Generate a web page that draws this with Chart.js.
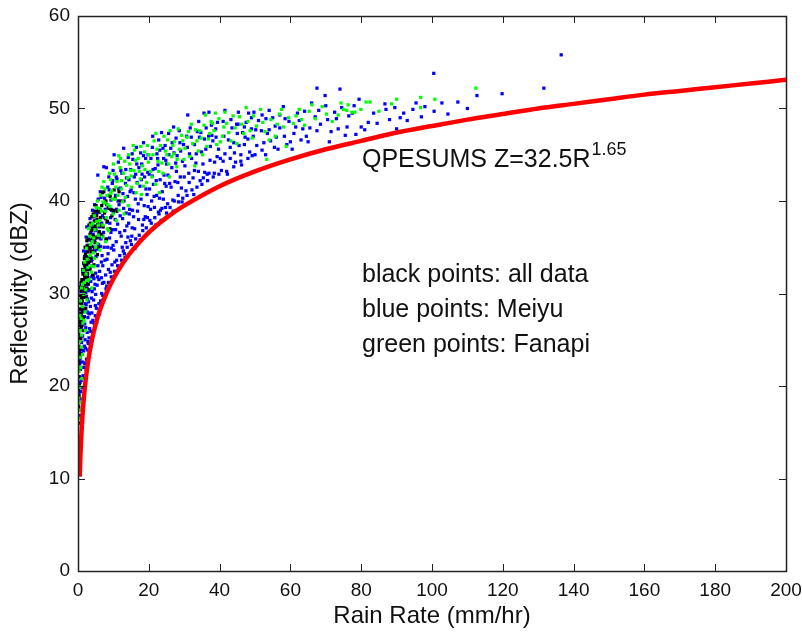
<!DOCTYPE html>
<html>
<head>
<meta charset="utf-8">
<script src="https://cdn.jsdelivr.net/npm/chart.js@4.4.1/dist/chart.umd.min.js"></script>
<style>
  body { margin: 0; background: #fff; }
  #wrap { width: 802px; height: 635px; }
</style>
</head>
<body>
<div id="wrap"><canvas id="chart" width="802" height="635"></canvas></div>
<script>
// ===== DATA =====
// axis ticks
const xTicks = [0, 20, 40, 60, 80, 100, 120, 140, 160, 180, 200];
const yTicks = [0, 10, 20, 30, 40, 50, 60];

// red QPESUMS curve, rain rate (mm/hr) vs reflectivity (dBZ)
const curveRain = [0.5, 0.6, 0.7, 0.8, 1, 1.2, 1.5, 2, 2.5, 3, 4, 5, 6, 8, 10, 12, 15, 20, 25, 30, 40, 50, 60, 70, 80, 90, 100, 110, 120, 130, 140, 150, 160, 170, 180, 190, 200];
const curveDbz = [10.2, 11.5, 12.6, 13.5, 15.1, 16.4, 18.0, 20.1, 21.7, 23.0, 25.1, 26.7, 28.0, 30.0, 31.6, 32.9, 34.5, 36.6, 38.2, 39.5, 41.6, 43.2, 44.5, 45.6, 46.5, 47.4, 48.1, 48.8, 49.4, 50.0, 50.5, 51.0, 51.5, 51.9, 52.3, 52.7, 53.1];

// black points: all data  [rain rate, dBZ]
const allPoints = [
  [0.1,16.0],[0.2,17.8],[0.1,19.5],[0.2,21.0],[0.3,22.6],[0.2,23.9],[0.4,25.2],[0.3,26.5],[0.5,27.4],[0.4,28.3],
  [0.6,24.0],[0.5,21.8],[0.7,26.9],[0.8,29.0],[0.6,29.8],[0.9,27.8],[1.0,30.3],[0.3,18.9],[0.7,23.3],[0.2,25.6],
  [0.1,22.4],[0.4,20.1],[0.8,25.1],[1.0,28.9],[0.9,31.2],[0.5,30.6],
  [1.1,27.3],[1.2,29.2],[1.3,30.6],[1.4,28.1],[1.5,31.4],[1.6,29.7],[1.7,32.3],[1.8,30.9],[1.9,33.0],[2.0,31.7],
  [2.1,29.6],[2.2,32.6],[2.3,34.0],[2.4,31.1],[2.5,33.4],[2.6,35.1],[2.7,32.2],[2.8,34.5],[2.9,36.0],[3.0,33.3],
  [1.2,26.0],[1.5,27.4],[1.8,33.8],[2.2,28.4],[2.6,30.5],[1.4,32.1],[1.1,31.5],[2.0,35.0],[2.9,31.0],
  [3.2,34.8],[3.4,36.4],[3.6,33.9],[3.8,35.7],[4.0,37.1],[4.2,34.6],[4.4,36.2],[4.6,37.8],[4.8,35.5],[5.0,37.0],
  [5.2,38.4],[5.4,36.1],[5.6,37.6],[5.8,39.0],[6.0,36.7],[3.3,32.6],[3.9,38.3],[4.5,33.1],[5.1,39.5],[5.7,35.0],
  [3.1,37.4],[4.1,32.0],[4.9,38.9],[5.5,34.2],
  [6.3,38.2],[6.7,39.5],[7.1,37.2],[7.5,38.7],[7.9,40.0],[8.3,37.8],[8.7,39.2],[9.1,40.5],[9.6,38.4],[10.0,39.0],
  [10.5,40.3],[11.0,38.9],[11.6,41.0],[6.5,36.4],[7.3,41.0],[8.0,35.9],[9.0,37.0],[12.0,40.0],[6.9,40.9],
  [0.1,18.2],[0.2,19.9],[0.3,24.3],[0.1,26.1],[0.4,27.0],[0.3,29.0],[0.6,27.1],[0.5,23.5],[0.7,30.7],[0.8,27.5],
  [0.9,29.4],[1.0,26.4],[1.1,29.7],[1.3,28.4],[1.3,32.6],[1.5,29.6],[1.6,33.3],[1.7,30.1],[1.9,31.9],[2.1,34.2],
  [2.3,30.5],[2.4,33.0],[2.5,35.7],[2.7,33.7],[2.8,31.7],[3.0,35.2],[3.2,33.5],[3.4,35.1],[3.5,37.6],[3.7,34.5],
  [3.9,36.8],[4.1,35.9],[4.3,38.6],[4.6,35.0],[4.8,37.3],[5.1,36.0],[5.4,38.0],[5.8,37.4],[6.1,38.8],[6.6,37.3],
  [7.2,39.8],[7.8,38.1],[8.5,40.6],[9.3,39.1],[10.2,41.2]
];

// blue points: Meiyu
const meiyuPoints = [
  [0.2,17.5],[0.3,19.2],[0.4,21.0],[0.5,22.4],[0.3,24.1],[0.6,25.3],[0.4,26.8],[0.7,27.9],[0.5,29.1],[0.8,30.2],
  [0.6,18.6],[0.9,23.5],[0.2,20.3],[0.7,21.8],[0.8,26.1],[1.0,28.4],[0.9,31.0],[0.4,16.8],[1.0,24.7],[0.6,23.0],
  [1.1,19.8],[1.2,22.6],[1.3,25.4],[1.4,27.2],[1.5,29.6],[1.6,31.5],[1.7,33.2],[1.8,24.3],[1.9,26.7],[2.0,28.9],
  [1.2,30.8],[1.4,21.1],[1.6,23.8],[1.8,30.1],[1.3,32.4],[1.9,34.0],[1.5,26.0],[1.7,28.1],[1.1,27.0],[2.0,22.5],
  [2.1,24.1],[2.2,26.3],[2.3,28.8],[2.4,31.0],[2.5,33.1],[2.6,35.2],[2.7,23.9],[2.8,27.4],[2.9,30.3],[3.0,32.6],
  [2.2,34.5],[2.4,29.7],[2.6,25.8],[2.8,33.9],[2.3,36.1],[2.9,27.9],[2.5,30.9],[2.7,32.0],
  [3.1,25.2],[3.2,27.8],[3.3,30.4],[3.4,32.7],[3.5,34.9],[3.6,36.6],[3.7,26.9],[3.8,29.5],[3.9,31.8],[4.0,33.7],
  [3.3,35.8],[3.5,28.6],[3.7,37.4],[3.9,35.1],[3.4,24.6],[4.0,30.2],
  [4.2,27.1],[4.4,29.3],[4.5,31.6],[4.6,33.8],[4.7,35.7],[4.8,37.9],[4.3,36.4],[4.9,28.7],[5.0,32.2],[4.1,39.0],
  [4.6,30.5],[4.8,34.6],[4.4,38.3],[5.0,36.8],[4.7,26.2],
  [5.2,28.4],[5.4,30.9],[5.6,33.0],[5.8,35.3],[6.0,37.2],[6.2,39.1],[6.4,29.2],[6.6,31.7],[6.8,34.1],[7.0,36.2],
  [5.3,38.6],[5.7,40.2],[6.1,32.4],[6.5,35.9],[6.9,38.4],[5.5,27.6],[6.3,41.0],[6.7,30.0],[5.9,36.5],[6.6,33.4],
  [7.0,29.8],[5.6,42.8],
  [7.3,31.2],[7.6,33.6],[7.9,35.8],[8.2,37.7],[8.5,39.4],[8.8,41.2],[9.1,32.3],[9.4,34.9],[9.7,36.9],[10.0,38.8],
  [7.5,40.3],[7.8,38.1],[8.1,30.8],[8.4,35.0],[8.7,42.6],[9.0,37.6],[9.3,40.1],[9.6,33.1],[9.9,43.3],[7.2,36.6],
  [8.0,43.6],[9.5,39.0],[8.6,32.6],[7.3,43.7],
  [10.4,33.4],[10.8,35.6],[11.2,37.5],[11.6,39.6],[12.0,41.4],[12.4,43.0],[12.8,34.6],[13.2,36.8],[13.6,38.7],[14.0,40.5],
  [14.4,42.3],[14.8,35.7],[10.6,40.6],[11.0,42.4],[11.4,44.2],[11.8,34.1],[12.2,36.2],[12.6,38.1],[13.0,40.0],[13.4,41.9],
  [13.8,37.3],[14.2,44.7],[14.6,39.1],[10.2,45.0],[12.9,45.7],[11.7,32.9],[13.5,35.5],[10.8,42.6],
  [15.2,36.2],[15.7,38.3],[16.2,40.2],[16.7,42.0],[17.2,43.6],[17.7,45.2],[18.2,37.4],[18.7,39.5],[19.2,41.3],[19.7,43.1],
  [15.5,44.5],[16.0,37.0],[16.5,45.8],[17.0,39.7],[17.5,41.6],[18.0,44.0],[18.5,46.3],[19.0,38.3],[19.5,40.7],[16.3,42.9],
  [17.9,42.3],[19.8,45.0],[15.0,41.2],[15.3,45.1],[18.5,44.9],
  [20.3,37.9],[20.8,40.0],[21.3,41.8],[21.8,43.5],[22.3,45.1],[22.8,46.6],[23.3,39.0],[23.8,41.0],[24.3,42.8],[24.8,44.4],
  [20.6,44.6],[21.1,47.0],[21.6,39.3],[22.1,42.2],[22.6,43.9],[23.1,45.5],[23.6,47.4],[24.1,40.2],[24.6,46.0],[21.0,42.7],
  [22.9,38.6],[24.9,41.6],
  [25.3,39.7],[25.9,41.9],[26.5,43.6],[27.1,45.2],[27.7,46.8],[28.3,40.6],[28.9,42.6],[29.5,44.3],[25.6,47.3],[26.2,45.7],
  [26.8,40.1],[27.4,42.1],[28.0,44.9],[28.6,47.6],[29.2,41.4],[29.8,46.1],[25.0,44.0],[27.0,48.0],
  [30.5,41.1],[31.3,43.0],[32.1,44.6],[32.9,46.1],[33.7,47.5],[34.5,42.2],[35.3,44.0],[36.1,45.6],[36.9,47.0],[37.7,48.2],
  [38.5,43.0],[39.3,44.8],[30.9,45.8],[31.7,47.9],[32.5,42.5],[33.3,44.1],[34.1,48.6],[34.9,45.3],[35.7,46.7],[36.5,42.9],
  [37.3,44.4],[38.1,46.5],[38.9,47.8],[39.7,45.6],[31.0,49.3],[35.6,49.5],[37.0,49.6],
  [40.5,43.3],[41.5,45.1],[42.5,46.6],[43.5,47.9],[44.5,44.2],[45.5,46.0],[46.5,47.4],[47.5,48.5],[48.5,45.3],[49.5,47.0],
  [41.0,48.6],[41.5,49.8],[43.0,44.6],[44.0,46.3],[45.3,49.6],[46.0,45.0],[47.0,48.0],[48.0,46.7],[49.0,49.0],[49.7,49.6],
  [44.8,48.3],
  [50.5,46.0],[51.8,47.6],[53.1,48.9],[54.4,46.5],[55.7,48.1],[57.0,49.3],[58.3,47.0],[59.6,48.6],[52.0,45.5],[54.0,49.8],
  [56.0,46.9],[58.0,50.2],[60.0,46.4],[53.5,47.3],
  [61.0,47.3],[62.5,48.7],[64.0,49.7],[65.5,47.9],[67.0,49.1],[68.5,48.3],[70.0,50.3],[71.5,47.5],[73.0,48.9],[74.5,50.1],
  [76.0,48.0],[77.5,49.5],[63.0,46.6],[66.0,50.6],[67.5,52.2],[69.8,51.4],[74.0,52.1],[78.5,47.2],
  [79.4,51.0],[82.0,48.5],[86.7,50.5],[88.0,48.8],[89.5,50.1],[92.0,49.5],[94.6,49.9],[95.5,50.6],[100.6,49.7],[100.5,53.8],
  [102.8,50.6],[107.3,50.7],[112.7,51.4],[119.8,51.6],[131.6,52.2],[136.5,55.8],
  [0.3,22.8],[0.5,26.0],[0.2,28.3],[0.7,19.4],[0.9,20.6],[1.1,23.9],[1.3,28.0],[1.5,20.9],[1.6,34.6],[1.9,22.4],
  [2.1,32.9],[2.3,21.8],[2.5,37.2],[2.7,29.4],[2.9,24.6],[3.0,35.9],[3.2,23.8],[3.4,38.1],[3.6,25.9],[3.8,33.5],
  [4.1,25.8],[4.3,31.9],[4.5,37.0],[4.7,39.6],[4.9,27.6],[5.1,34.0],[5.3,26.9],[5.5,31.8],[5.7,38.8],[5.9,28.9],
  [6.1,27.8],[6.3,35.1],[6.5,40.4],[6.7,37.6],[6.9,31.1],[7.1,29.3],[7.4,35.0],[7.7,39.1],[7.9,30.5],[8.2,33.7],
  [8.4,41.5],[8.6,31.2],[8.9,36.0],[9.2,38.2],[9.4,31.8],[9.7,41.9],[9.9,35.2],[10.3,32.4],[10.6,36.9],[10.9,39.1],
  [11.2,33.0],[11.5,41.3],[11.9,38.4],[12.3,33.6],[12.7,40.8],[13.1,34.3],[13.5,43.4],[13.9,35.0],[14.3,37.6],[14.7,41.0],
  [15.1,35.3],[15.4,39.0],[15.9,42.6],[16.3,35.9],[16.8,38.9],[17.3,36.3],[17.8,40.2],[18.3,36.8],[18.8,42.6],[19.3,37.1],
  [19.8,39.4],[20.2,41.3],[20.7,37.6],[21.2,43.4],[21.7,38.2],[22.2,40.6],[22.7,38.8],[23.2,42.3],[23.7,39.2],[24.2,44.6],
  [24.7,39.3],[25.4,42.8],[26.0,39.3],[26.6,46.3],[27.2,40.0],[27.8,43.2],[28.4,39.9],[29.0,45.4],[29.6,40.3],[30.2,43.8],
  [30.8,40.6],[31.5,45.1],[32.2,41.2],[32.9,43.3],[33.6,41.5],[34.3,46.9],[35.0,41.8],[35.8,43.1],[36.6,42.2],[37.4,45.9],
  [38.2,42.6],[39.0,46.9],[39.8,42.9],[41.0,44.3],[42.0,43.2],[43.0,45.8],[44.0,43.7],[45.0,47.3],[46.0,44.3],[47.0,46.1],
  [48.0,44.6],[49.0,47.8],[50.0,45.0],[51.0,48.7],[52.5,46.3],[54.0,47.7],[55.5,45.8],[57.0,47.9],[59.0,46.1],[61.5,48.0],
  [64.5,47.0],[67.5,47.6],[70.5,48.8],[73.5,47.8],[76.5,49.2],[80.0,48.0],[83.5,49.5],[87.0,49.9],[91.0,49.0],[98.0,50.2],
  [5.0,29.9],[5.4,34.8],[5.9,31.5],[6.2,36.0],[6.6,28.9],[7.0,33.0],[7.4,38.2],[7.8,32.0],[8.1,39.6],[8.5,34.3],
  [8.9,30.8],[9.3,36.6],[9.8,42.2],[10.1,34.7],[10.5,38.0],[10.9,33.6],[11.3,40.0],[11.8,36.6],[12.1,43.3],[12.5,35.0],
  [12.9,39.2],[13.3,33.9],[13.7,42.5],[14.1,36.1],[14.5,38.6],[14.9,43.4],[15.3,37.1],[15.8,40.9],[16.1,34.9],[16.6,44.0],
  [17.1,38.0],[17.6,35.8],[18.1,42.9],[18.6,38.0],[19.1,44.6],[19.6,38.2],[20.1,42.9],[20.5,39.1],[21.0,45.8],[21.5,40.5],
  [22.0,37.4],[22.5,44.6],[23.0,40.3],[23.5,37.9],[24.0,45.7],[24.5,41.9],[25.0,38.7],[25.7,45.0],[26.3,41.5],[26.9,38.9],
  [27.6,44.1],[28.2,42.0],[28.8,46.3],[29.4,39.9],[30.0,42.6],[30.7,47.0],[31.4,42.0],[32.0,46.9],[32.7,40.7],[33.4,45.1],
  [34.0,43.2],[34.7,47.4],[35.4,42.5],[36.2,47.9],[37.0,43.0],[37.8,47.1],[38.6,44.2],[39.4,48.5],[40.2,44.6],[41.2,47.0],
  [42.2,42.9],[43.2,48.8],[44.2,45.2],[45.2,48.3],[46.2,43.9],[47.2,46.9],[48.2,49.5],[49.2,44.9],[50.2,47.7],[52.0,49.3],
  [53.0,45.0],[55.0,49.0],[56.5,45.6],[58.5,48.9],[60.5,45.6],[62.0,49.5],[63.5,47.8],[65.0,46.4],[68.0,49.8],[71.0,46.4],
  [72.5,49.6],[75.5,47.1],[78.0,50.3],[81.0,47.7],[84.5,48.4],[90.0,47.8],[93.0,48.7],[97.0,49.1],[104.5,49.4],[110.0,50.0],
  [0.4,23.7],[0.6,20.4],[0.8,28.3],[1.0,22.0],[1.2,26.6],[1.4,30.3],[1.6,22.0],[1.8,27.5],[2.0,25.0],[2.2,30.1],
  [2.4,22.9],[2.6,28.0],[2.8,24.8],[3.0,29.1],[3.3,26.2],[3.6,31.3],[3.9,27.9],[4.2,33.0],[4.5,26.8],[4.8,31.0]
];

// green points: Fanapi
const fanapiPoints = [
  [0.3,16.5],[0.4,18.2],[0.5,19.9],[0.3,21.6],[0.6,23.1],[0.5,24.8],[0.7,26.0],[0.8,22.0],[0.9,27.3],[1.0,25.5],
  [1.2,28.6],[1.4,26.8],[1.6,29.9],[1.8,31.2],[2.0,28.0],[1.1,20.8],[0.6,17.4],[1.5,32.5],
  [2.2,30.4],[2.5,29.3],[2.8,32.8],[3.1,31.5],[3.4,34.1],[3.7,33.0],[4.0,35.6],[4.3,34.4],[4.5,32.9],[4.8,36.9],
  [2.6,33.7],[3.3,36.2],[3.9,30.6],[4.6,38.4],[5.0,35.0],
  [5.3,37.8],[5.7,36.3],[6.2,34.7],[6.6,38.9],[7.0,37.4],[7.5,39.8],[8.0,38.2],[8.2,40.6],[8.6,36.8],[9.0,39.4],
  [9.5,41.1],[9.9,38.6],[5.5,40.0],[6.8,41.5],[7.8,35.6],[9.2,42.3],[6.0,39.2],
  [10.5,40.2],[11.0,42.1],[11.6,39.0],[12.2,41.3],[12.8,43.0],[13.4,40.4],[14.0,42.5],[14.6,44.0],[15.2,41.5],[15.8,43.3],
  [16.4,40.9],[17.0,44.6],[17.6,42.4],[18.2,43.8],[18.8,45.3],[19.4,42.0],[19.9,44.2],[10.8,37.9],[13.0,38.6],[16.0,45.5],
  [17.9,40.7],[12.0,44.6],
  [20.5,43.2],[21.2,45.0],[21.9,41.8],[22.6,44.3],[23.3,46.0],[24.0,43.0],[24.7,45.4],[25.1,45.0],[25.8,42.6],[26.5,44.8],
  [27.2,46.4],[27.9,43.7],[28.6,45.6],[29.3,47.1],[29.9,44.5],[22.0,47.3],[26.0,47.6],[23.0,40.9],
  [30.8,46.9],[31.6,44.8],[32.4,46.2],[33.2,47.7],[34.0,45.4],[34.8,46.8],[35.6,48.2],[36.4,45.9],[37.2,47.3],[38.0,48.4],
  [38.4,47.6],[39.2,46.1],[39.8,48.9],[33.0,43.8],[36.0,49.3],
  [40.8,47.0],[42.0,48.4],[43.2,46.5],[44.4,47.9],[45.6,49.1],[46.8,47.3],[48.0,48.6],[49.2,46.8],[50.4,48.1],[51.6,49.9],
  [52.8,47.5],[53.3,44.5],[54.5,48.8],[55.7,47.0],[56.9,49.4],[58.1,48.0],[58.8,45.9],[59.5,49.0],[41.5,49.6],[47.5,50.1],
  [60.8,48.4],[62.5,49.9],[64.0,48.2],[65.3,49.7],[67.0,48.9],[69.0,50.2],[71.8,48.6],[73.5,49.3],[75.0,49.9],[75.9,49.8],
  [76.3,50.4],[77.4,49.6],[78.2,49.6],[79.9,49.9],[81.4,50.7],[82.5,50.7],[85.0,49.7],[88.6,50.5],[90.0,51.0],[96.8,51.2],
  [96.8,50.1],[100.8,51.0],[112.4,52.2],
  [0.2,18.7],[0.4,22.0],[0.5,27.6],[0.7,29.2],[0.9,24.2],[1.0,30.6],[1.3,23.4],[1.7,27.1],[1.9,33.4],[2.1,26.0],
  [2.4,34.9],[2.7,31.4],[3.0,37.0],[3.5,35.3],[3.8,32.3],[4.2,37.6],[4.7,33.8],[5.2,39.3],[5.8,37.4],[6.4,40.6],
  [6.9,36.1],[7.3,42.1],[7.8,38.9],[8.4,39.6],[8.9,43.0],[9.7,40.2],[10.3,42.9],[11.3,40.6],[11.9,43.6],[12.6,39.9],
  [13.7,41.7],[14.3,45.0],[15.0,42.7],[16.2,44.4],[17.3,43.2],[18.5,41.6],[19.6,46.0],[20.9,42.6],[22.3,45.6],[23.7,44.1],
  [25.3,46.6],[27.0,45.1],[28.3,47.8],[30.2,45.7],[32.0,48.3],[34.4,47.6],[36.8,46.7],[38.8,49.5],[41.2,48.0],[43.8,49.2],
  [46.2,48.3],[49.6,49.2],[52.2,48.5],[56.3,48.3],[61.6,49.2],[66.1,50.4],[70.2,49.4],[74.3,50.6],
  [1.3,31.0],[2.3,32.1],[3.6,37.4],[4.4,36.0],[5.4,35.4],[6.1,37.9],[7.1,39.9],[7.6,41.3],[8.3,37.0],[9.3,40.8],
  [10.0,44.0],[10.7,41.5],[11.5,44.9],[12.3,42.2],[13.2,44.3],[14.2,39.5],[14.8,43.3],[15.6,46.0],[16.7,41.9],[17.7,45.9],
  [18.9,43.4],[20.0,45.0],[21.5,46.5],[22.8,43.2],[24.3,47.0],[25.6,44.0],[26.8,46.0],[28.0,44.5],[29.6,46.5],[31.2,47.5],
  [33.6,46.5],[35.2,45.0],[37.6,48.6],[40.2,46.4],[42.6,47.4],[44.9,46.2],[48.6,47.6],[54.0,46.6],[57.5,49.9],[63.2,48.8]
];

// ===== BUILD DATASETS =====
function toXY(list) {
  return list.map(function(p) { return { x: p[0], y: p[1] }; });
}

const curvePoints = curveRain.map(function(r, i) {
  return { x: r, y: curveDbz[i] };
});

function scatterSet(label, pts, color, order) {
  return {
    type: 'scatter',
    label: label,
    data: toXY(pts),
    pointStyle: 'rect',
    pointRadius: 2.3,
    pointBorderWidth: 0,
    backgroundColor: color,
    borderColor: color,
    order: order
  };
}

// ===== BOX, INSIDE TICKS AND TEXT =====
const boxPlugin = {
  id: 'box',
  afterDraw: function(chart) {
    const ctx = chart.ctx;
    const a = chart.chartArea;
    const x = chart.scales.x;
    const y = chart.scales.y;
    ctx.save();
    ctx.strokeStyle = '#222';
    ctx.lineWidth = 1;
    ctx.beginPath();
    xTicks.forEach(function(v) {
      const px = Math.round(x.getPixelForValue(v)) + 0.5;
      ctx.moveTo(px, a.bottom); ctx.lineTo(px, a.bottom - 7);
      ctx.moveTo(px, a.top); ctx.lineTo(px, a.top + 7);
    });
    yTicks.forEach(function(v) {
      const py = Math.round(y.getPixelForValue(v)) + 0.5;
      ctx.moveTo(a.left, py); ctx.lineTo(a.left + 7, py);
      ctx.moveTo(a.right, py); ctx.lineTo(a.right - 7, py);
    });
    ctx.stroke();
    ctx.lineWidth = 1.5;
    ctx.strokeRect(a.left + 0.5, a.top + 0.5, a.right - a.left, a.bottom - a.top);

    // annotation text
    ctx.fillStyle = '#111';
    ctx.textBaseline = 'alphabetic';
    ctx.font = '25px "Liberation Sans", Arial, sans-serif';
    ctx.fillText('QPESUMS Z=32.5R', 362, 167);
    const w = ctx.measureText('QPESUMS Z=32.5R').width;
    ctx.font = '18px "Liberation Sans", Arial, sans-serif';
    ctx.fillText('1.65', 362 + w + 1, 155);
    ctx.font = '25px "Liberation Sans", Arial, sans-serif';
    ctx.fillText('black points: all data', 362, 282);
    ctx.fillText('blue points: Meiyu', 362, 317);
    ctx.fillText('green points: Fanapi', 362, 352);
    ctx.restore();
  }
};

// ===== DRAW THE CHART =====
const ctx = document.getElementById('chart').getContext('2d');
const tickFont = { family: '"Liberation Sans", Arial, sans-serif', size: 19 };
const titleFont = { family: '"Liberation Sans", Arial, sans-serif', size: 24 };

new Chart(ctx, {
  data: {
    datasets: [
      {
        type: 'line',
        label: 'QPESUMS',
        data: curvePoints,
        borderColor: '#ff0000',
        borderWidth: 4.5,
        pointRadius: 0,
        tension: 0.3,
        fill: false,
        order: 0
      },
      scatterSet('Fanapi', fanapiPoints, '#00ff00', 1),
      scatterSet('all data', allPoints, '#000000', 2),
      scatterSet('Meiyu', meiyuPoints, '#0000ff', 3)
    ]
  },
  options: {
    responsive: false,
    animation: false,
    layout: { padding: { top: 16, right: 16, left: 0, bottom: 0 } },
    plugins: {
      legend: { display: false },
      tooltip: { enabled: false }
    },
    scales: {
      x: {
        type: 'linear',
        min: 0,
        max: 200,
        grid: { display: false },
        border: { display: false },
        ticks: { stepSize: 20, color: '#111', font: tickFont, padding: 0, maxRotation: 0 },
        title: { display: true, text: 'Rain Rate (mm/hr)', color: '#111', font: titleFont, padding: { top: 0 } },
        afterFit: function(scale) { scale.height = 64; }
      },
      y: {
        type: 'linear',
        min: 0,
        max: 60,
        grid: { display: false },
        border: { display: false },
        ticks: { stepSize: 10, color: '#111', font: tickFont, padding: 0 },
        title: { display: true, text: 'Reflectivity (dBZ)', color: '#111', font: titleFont, padding: { top: 6, bottom: 0 } },
        afterFit: function(scale) { scale.width = 78; }
      }
    }
  },
  plugins: [boxPlugin]
});
</script>
</body>
</html>
